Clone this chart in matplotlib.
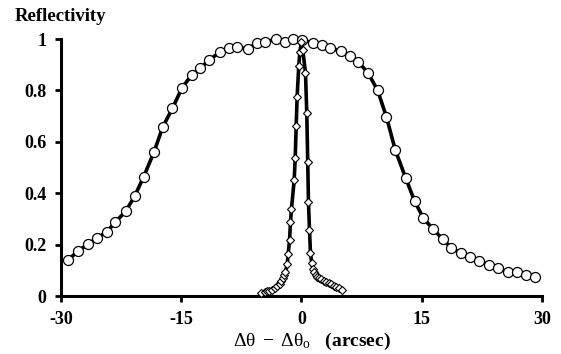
import matplotlib
matplotlib.use("Agg")
import matplotlib.pyplot as plt

# Broad curve (circles)
circ_x = [-29.1, -27.9, -26.6, -25.5, -24.3, -23.2, -21.9, -20.8, -19.7, -18.4,
          -17.3, -16.1, -14.9, -13.7, -12.6, -11.5, -10.2, -9.1, -8.0, -6.7,
          -5.6, -4.5, -3.2, -2.1, -1.0, 0.1, 1.4, 2.5, 3.6, 4.9,
          6.0, 7.1, 8.3, 9.5, 10.6, 11.7, 13.0, 14.1, 15.2, 16.4,
          17.6, 18.7, 19.9, 21.0, 22.2, 23.4, 24.5, 25.7, 26.9, 28.0, 29.1]
circ_y = [0.14, 0.175, 0.202, 0.226, 0.249, 0.288, 0.331, 0.389, 0.463, 0.56,
          0.658, 0.73, 0.81, 0.86, 0.887, 0.918, 0.949, 0.965, 0.969, 0.961,
          0.984, 0.988, 1.0, 0.988, 1.0, 0.997, 0.984, 0.977, 0.965, 0.953,
          0.934, 0.91, 0.868, 0.80, 0.697, 0.568, 0.459, 0.37, 0.303, 0.261,
          0.222, 0.187, 0.167, 0.152, 0.136, 0.121, 0.109, 0.093, 0.093, 0.082, 0.074]

# Narrow curve (diamonds)
diam_x = [-5.0, -4.6, -4.3, -4.0, -3.7, -3.36, -3.05, -2.74, -2.5, -2.33, -2.15,
          -2.0, -1.78, -1.66, -1.49, -1.37, -1.25, -0.91, -0.78, -0.66, -0.54,
          -0.34, -0.2, 0.0, 0.16, 0.5, 0.66, 0.78, 0.87, 1.0, 1.12, 1.28, 1.4,
          1.53, 1.75, 1.96, 2.2, 2.45, 2.75, 3.08, 3.4, 3.7, 4.0, 4.32, 4.7, 5.1]
diam_y = [0.012, 0.016, 0.018, 0.019, 0.025, 0.031, 0.04, 0.047, 0.058, 0.07, 0.082,
          0.093, 0.125, 0.163, 0.218, 0.288, 0.339, 0.451, 0.538, 0.663, 0.776,
          0.896, 0.95, 0.99, 0.957, 0.868, 0.712, 0.521, 0.366, 0.257, 0.167, 0.128, 0.105,
          0.093, 0.08, 0.074, 0.07, 0.066, 0.06, 0.054, 0.05, 0.047, 0.04, 0.035, 0.031, 0.023]

x_ticks = [-30, -15, 0, 15, 30]
x_tick_labels = ["-30", "-15", "0", "15", "30"]
y_ticks = [0, 0.2, 0.4, 0.6, 0.8, 1.0]
y_tick_labels = ["0", "0.2", "0.4", "0.6", "0.8", "1"]

plt.rcParams['font.family'] = ['Liberation Serif', 'DejaVu Serif']
plt.rcParams['mathtext.fontset'] = 'custom'
plt.rcParams['mathtext.rm'] = 'Liberation Serif'
plt.rcParams['mathtext.bf'] = 'Liberation Serif:bold'
plt.rcParams['mathtext.it'] = 'Liberation Serif:italic'

fig = plt.figure(figsize=(5.61, 3.54), dpi=100)
ax = fig.add_axes([0.1087, 0.1638, 0.9661 - 0.1087, 0.8898 - 0.1638])

ax.plot(circ_x, circ_y, color='black', lw=2.6, marker='o', ms=7.2,
        mfc='white', mec='black', mew=0.9, clip_on=False, zorder=3)
ax.plot(diam_x, diam_y, color='black', lw=2.6, marker='D', ms=4.2,
        mfc='white', mec='black', mew=0.8, clip_on=False, zorder=4)

ax.set_xlim(-30, 30)
ax.set_ylim(0, 1)
for s in ['top', 'right']:
    ax.spines[s].set_visible(False)
for s in ['left', 'bottom']:
    ax.spines[s].set_linewidth(2.2)

ax.set_xticks(x_ticks)
ax.set_xticklabels(x_tick_labels)
ax.set_yticks(y_ticks)
ax.set_yticklabels(y_tick_labels)
ax.tick_params(direction='out', length=4.5, width=2.0, pad=6, labelsize=13)
for lab in ax.get_xticklabels() + ax.get_yticklabels():
    lab.set_fontweight('bold')

ax.set_xlabel(r'$\mathrm{Δθ\ -\ Δθ_o}$   $\mathbf{(arcsec)}$', fontsize=14)
ax.xaxis.set_label_coords(0.522, -0.135)
fig.text(0.027, 0.952, 'Reflectivity', fontsize=13.5, fontweight='bold',
         ha='left', va='center')

fig.savefig('out.png', dpi=100)
